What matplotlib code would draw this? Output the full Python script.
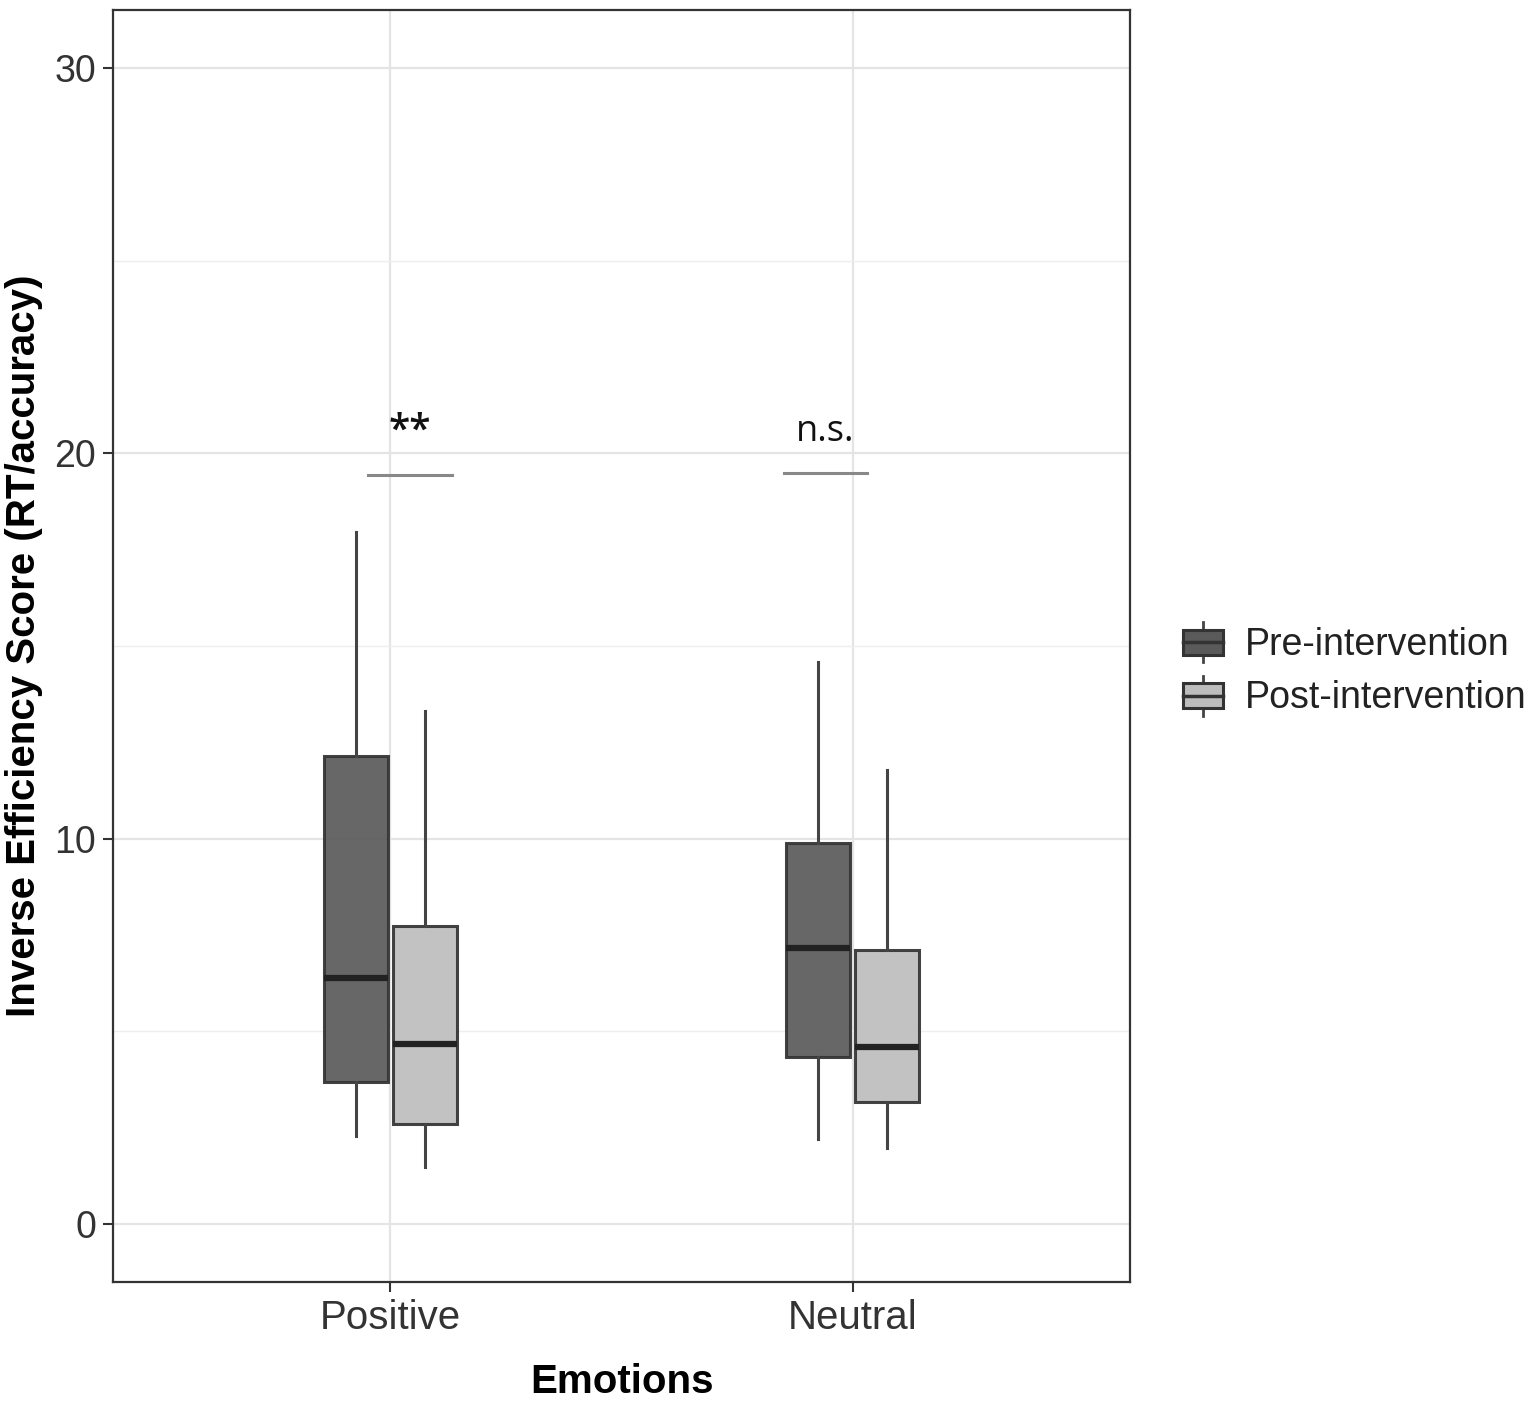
import matplotlib
matplotlib.use("Agg")
import matplotlib.pyplot as plt
from matplotlib.legend_handler import HandlerBase
from matplotlib.patches import Rectangle
from matplotlib.lines import Line2D
import numpy as np

plt.rcParams['font.family'] = ['Liberation Sans', 'DejaVu Sans']

categories = ["Positive", "Neutral"]
groups = ["Pre-intervention", "Post-intervention"]
# [whislo, q1, median, q3, whishi] per category
pre_stats = [[2.28, 3.69, 6.38, 12.15, 17.96],
             [2.21, 4.33, 7.16, 9.89, 14.59]]
post_stats = [[1.48, 2.60, 4.67, 7.73, 13.31],
              [1.97, 3.17, 4.59, 7.11, 11.78]]
sig_labels = ["**", "n.s."]
sig_y = [19.44, 19.49]
# bracket extents relative to category centre
sig_x0 = [-0.048, -0.149]
sig_x1 = [0.134, 0.030]
colors = ["#5a5a5a", "#bdbdbd"]

fig = plt.figure(figsize=(15.35, 14.03), dpi=100)
ax = fig.add_axes([113/1535, 1-1282/1403, (1130-113)/1535, (1282-10)/1403])

pos = np.arange(1, len(categories)+1)
width = 0.138
offset = 0.075
edge = "#333333"
for gi, (stats, col) in enumerate(zip([pre_stats, post_stats], colors)):
    bstats = []
    for s in stats:
        bstats.append(dict(whislo=s[0], q1=s[1], med=s[2], q3=s[3], whishi=s[4], fliers=[]))
    p = pos + (-offset if gi == 0 else offset)
    ax.bxp(bstats, positions=p, widths=width, patch_artist=True, showcaps=False,
           boxprops=dict(facecolor=col, edgecolor=edge, linewidth=2.2, alpha=0.92),
           medianprops=dict(color="#222222", linewidth=4.5),
           whiskerprops=dict(color="#444444", linewidth=2.2), zorder=3)

# significance lines
for i, lab in enumerate(sig_labels):
    x0 = pos[i] + sig_x0[i]
    x1 = pos[i] + sig_x1[i]
    yv = sig_y[i]
    ax.plot([x0, x1], [yv, yv], color="#888888", lw=2.2, zorder=3)
    ax.text((x0+x1)/2, yv + 0.6, lab, ha="center", va="bottom",
            fontsize=28 if lab == "**" else 26, family=["Open Sans", "DejaVu Sans"],
            fontweight="semibold" if lab == "**" else "normal",
            color="#111111")

ax.set_xlim(0.4, 2.6)
ax.set_ylim(-1.5, 31.5)
ax.set_xticks(pos)
ax.set_xticklabels(categories)
ax.set_yticks([0, 10, 20, 30])
ax.set_yticks([5, 15, 25], minor=True)
ax.tick_params(axis='both', which='major', length=7, width=1.5,
               color="#333333", labelcolor="#333333", pad=5)
ax.tick_params(axis='x', which='major', labelsize=29)
ax.tick_params(axis='y', which='major', labelsize=27)
ax.tick_params(axis='y', which='minor', length=0)
ax.grid(which='major', color="#e4e4e4", lw=1.6, zorder=0)
ax.grid(which='minor', axis='y', color="#eeeeee", lw=1.0, zorder=0)
ax.set_axisbelow(True)
for sp in ax.spines.values():
    sp.set_color("#333333")
    sp.set_linewidth(1.6)

ax.set_xlabel("Emotions", fontsize=29, fontweight="bold", labelpad=19)
ax.set_ylabel("Inverse Efficiency Score (RT/accuracy)", fontsize=29, fontweight="bold", labelpad=8)


class BoxHandler(HandlerBase):
    def create_artists(self, legend, orig_handle, xdescent, ydescent, width, height, fontsize, trans):
        col = orig_handle.get_facecolor()
        cx = -xdescent + width / 2
        bw = width
        bh = height * 0.76
        y0 = -ydescent + (height - bh) / 2
        r = Rectangle((cx - bw/2, y0), bw, bh, facecolor=col, edgecolor=edge, lw=2.2, transform=trans)
        m = Line2D([cx - bw/2, cx + bw/2], [y0 + bh/2, y0 + bh/2], color="#333333", lw=2.5, transform=trans)
        w1 = Line2D([cx, cx], [y0 + bh, -ydescent + height*1.1], color="#444444", lw=2, transform=trans)
        w2 = Line2D([cx, cx], [y0, -ydescent - height*0.1], color="#444444", lw=2, transform=trans)
        return [w1, w2, r, m]

handles = [Rectangle((0, 0), 1, 1, facecolor=c) for c in colors]
leg = fig.legend(handles, groups, handler_map={Rectangle: BoxHandler()},
                 loc="center left", bbox_to_anchor=(1183/1535, 1-671/1403),
                 frameon=False, fontsize=27, handlelength=1.07, handleheight=1.0,
                 handletextpad=0.59, labelspacing=0.42, borderaxespad=0, borderpad=0)
for t in leg.get_texts():
    t.set_color("#222222")

fig.savefig("out.png", dpi=100)
